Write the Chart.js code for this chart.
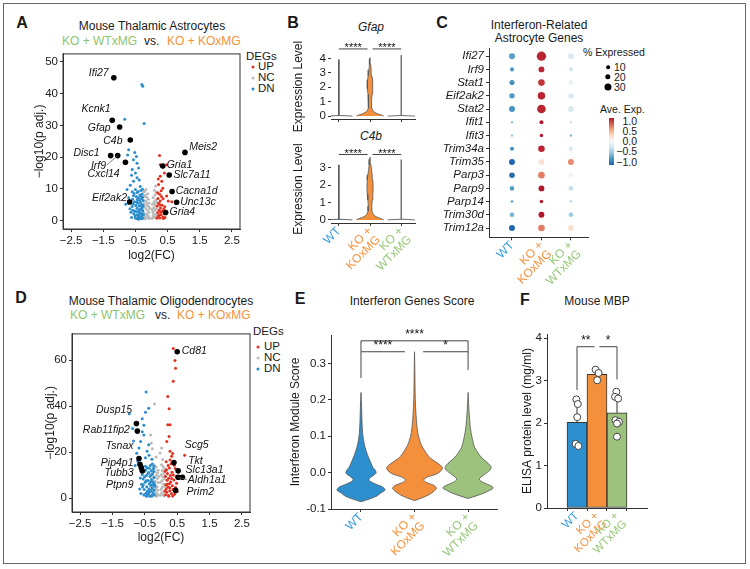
<!DOCTYPE html>
<html><head><meta charset="utf-8">
<script src="https://cdn.jsdelivr.net/npm/chart.js@4.4.1/dist/chart.umd.min.js"></script>
<style>
html,body{margin:0;padding:0;background:#fff;}
body{width:750px;height:569px;position:relative;overflow:hidden;font-family:'Liberation Sans',Arial,Helvetica,sans-serif;color:#1a1a1a;}
#frame{position:absolute;left:3px;top:3px;width:743px;height:561px;border:1.5px solid #666;box-sizing:border-box;}
canvas{position:absolute;}
.t{position:absolute;white-space:nowrap;line-height:1;}
.c{transform:translate(-50%,-50%);}
.l{transform:translateY(-50%);}
.L{font-weight:bold;font-size:16px;}
.dot{position:absolute;border-radius:50%;transform:translate(-50%,-50%);}
</style></head>
<body>
<div id="frame"></div>

<!-- panel letters and titles -->
<div class="t c L" style="left:22px;top:23px">A</div>
<div class="t c L" style="left:293px;top:23px">B</div>
<div class="t c L" style="left:442px;top:23px">C</div>
<div class="t c L" style="left:21px;top:298px">D</div>
<div class="t c L" style="left:300px;top:299px">E</div>
<div class="t c L" style="left:525px;top:300px">F</div>

<div class="t c" style="left:152px;top:26px;font-size:12px">Mouse Thalamic Astrocytes</div>
<div class="t l" style="left:62px;top:41px;font-size:12px;color:#8dc46f">KO + WTxMG</div>
<div class="t l" style="left:144px;top:41px;font-size:12px">vs.</div>
<div class="t l" style="left:167px;top:41px;font-size:12px;color:#f7923a">KO + KOxMG</div>

<div class="t c" style="left:161px;top:301px;font-size:12px">Mouse Thalamic Oligodendrocytes</div>
<div class="t l" style="left:70px;top:315px;font-size:12px;color:#8dc46f">KO + WTxMG</div>
<div class="t l" style="left:155px;top:315px;font-size:12px">vs.</div>
<div class="t l" style="left:177px;top:315px;font-size:12px;color:#f7923a">KO + KOxMG</div>

<div class="t c" style="left:371px;top:27px;font-size:12px;font-style:italic">Gfap</div>
<div class="t c" style="left:371px;top:136px;font-size:12px;font-style:italic">C4b</div>

<div class="t c" style="left:539px;top:25px;font-size:12px">Interferon-Related</div>
<div class="t c" style="left:539px;top:38px;font-size:12px">Astrocyte Genes</div>

<div class="t c" style="left:412px;top:301px;font-size:12px">Interferon Genes Score</div>
<div class="t c" style="left:597px;top:301px;font-size:12px">Mouse MBP</div>

<!-- DEG legends -->
<div class="t l" style="left:246px;top:57px;font-size:11.5px">DEGs</div>
<div class="dot" style="left:253px;top:67px;width:3px;height:3px;background:#e4301f"></div>
<div class="t l" style="left:258px;top:67px;font-size:11.5px">UP</div>
<div class="dot" style="left:253px;top:78px;width:3px;height:3px;background:#bdbdbd"></div>
<div class="t l" style="left:258px;top:78px;font-size:11.5px">NC</div>
<div class="dot" style="left:253px;top:89px;width:3px;height:3px;background:#2a8dcc"></div>
<div class="t l" style="left:258px;top:89px;font-size:11.5px">DN</div>

<div class="t l" style="left:253px;top:332px;font-size:11.5px">DEGs</div>
<div class="dot" style="left:258px;top:347px;width:3px;height:3px;background:#e4301f"></div>
<div class="t l" style="left:264px;top:347px;font-size:11.5px">UP</div>
<div class="dot" style="left:258px;top:358px;width:3px;height:3px;background:#bdbdbd"></div>
<div class="t l" style="left:264px;top:358px;font-size:11.5px">NC</div>
<div class="dot" style="left:258px;top:369px;width:3px;height:3px;background:#2a8dcc"></div>
<div class="t l" style="left:264px;top:369px;font-size:11.5px">DN</div>

<!-- dot plot legend -->
<div class="t l" style="left:583px;top:52px;font-size:10.5px">% Expressed</div>
<div id="sizeLegend"></div>
<div class="t l" style="left:600px;top:109px;font-size:10.5px">Ave. Exp.</div>
<div id="cbar" style="position:absolute;left:609px;top:118px;width:5px;height:47px"></div>
<div id="cbarLabels"></div>

<canvas id="cA" width="213" height="218" style="left:32px;top:45px"></canvas>
<canvas id="cB1" width="129" height="106" style="left:291px;top:30px"></canvas>
<canvas id="cB2" width="129" height="135" style="left:291px;top:140px"></canvas>
<canvas id="cC" width="170" height="262" style="left:425px;top:40px"></canvas>
<canvas id="cD" width="212" height="220" style="left:43px;top:325px"></canvas>
<canvas id="cE" width="217" height="247" style="left:288px;top:318px"></canvas>
<canvas id="cF" width="135" height="247" style="left:520px;top:318px"></canvas>

<script>
// ===================== DATA =====================
const groups = ['WT', 'KO + KOxMG', 'KO + WTxMG'];
const groupTickLabels = [['WT'], ['KO +', 'KOxMG'], ['KO +', 'WTxMG']];
const groupPos = [1, 2, 3];

// Panel A / D volcano axes
const volcanoXTicks = [-2.5, -1.5, -0.5, 0.5, 1.5, 2.5];
const volcanoAYTicks = [0, 10, 20, 30, 40, 50];
const volcanoDYTicks = [0, 20, 40, 60];

// Panel A: astrocytes  [log2FC, -log10 padj]
const ncA = [[-0.06,0.7],[-0.09,1.3],[-0.12,0.9],[-0.15,1.8],[-0.19,1.1],[-0.22,2.3],[-0.08,2.6],[-0.25,1.6],[-0.11,3.2],[-0.17,3.7],[-0.27,2.9],[-0.05,3.9],[-0.21,4.4],[-0.13,4.9],[-0.24,5.3],[-0.07,5.6],[-0.18,6.1],[-0.1,6.8],[-0.26,6.6],[-0.15,7.4],[-0.2,8.0],[-0.12,8.5],[-0.23,9.1],[-0.17,9.8],[-0.14,2.1],[-0.2,0.6],[-0.09,4.5],[-0.28,4.1],[-0.16,5.5],[-0.24,7.6],[-0.22,9.3],
  [0.02,0.8],[0.05,1.5],[0.09,1.0],[0.13,2.0],[0.04,2.8],[0.1,3.3],[0.15,1.2],[0.07,4.1],[0.12,4.8],[0.03,5.2],[0.16,3.8],[0.08,6.0],[0.14,6.6],[0.05,7.3],[0.11,8.1],[0.15,9.0],[0.09,9.6],[0.13,10.9],[0.06,2.3],[0.1,5.6],[0.02,3.6],[0.16,5.8]];
const dnA = [[-0.27,0.8],[-0.31,1.2],[-0.35,0.9],[-0.29,1.9],[-0.38,1.5],[-0.42,1.1],[-0.33,2.4],[-0.46,0.7],[-0.27,3.1],[-0.4,2.7],[-0.51,1.6],[-0.36,3.5],[-0.3,4.2],[-0.45,3.9],[-0.55,2.2],[-0.28,5.0],[-0.39,4.6],[-0.49,4.8],[-0.58,3.3],[-0.34,5.7],[-0.43,5.5],[-0.26,6.3],[-0.53,6.0],[-0.31,6.9],[-0.4,7.2],[-0.6,4.5],[-0.47,7.6],[-0.36,8.1],[-0.29,8.4],[-0.56,7.9],[-0.44,8.9],[-0.33,9.5],[-0.5,9.8],[-0.62,1.0],[-0.48,2.9],[-0.32,0.6],[-0.41,0.5],[-0.37,6.4],[-0.52,3.1],[-0.25,2.0],[-0.59,6.8],[-0.28,7.4],[-0.45,1.9],[-0.35,4.8],[-0.57,5.3],[-0.64,2.7],[-0.3,3.6],[-0.42,9.2],[-0.38,1.9],[-0.46,5.9],[-0.26,4.6],[-0.54,8.6],[-0.67,3.8],[-0.33,7.8],[-0.5,0.9],[-0.7,6.4],[-0.39,3.2],[-0.6,9.1],[-0.28,9.9],[-0.44,6.7],
  [-0.3,42.9],[-0.27,42.3],[-0.83,31.9],[-0.23,30.6],[-0.71,22.3],[-0.74,20.7],[-0.56,19.2],[-0.45,18.1],[-0.4,16.6],[-0.6,16.1],[-0.5,15.0],[-0.45,13.5],[-0.56,12.4],[-0.76,9.8],[-0.71,7.2],[-0.66,11.2],[-0.38,12.8],[-0.52,21.5],[-0.47,20.2],[-0.62,14.3],[-0.35,10.8],[-0.8,5.2]];
const upA = [[0.17,0.8],[0.21,1.4],[0.26,0.9],[0.3,1.9],[0.19,2.6],[0.35,1.2],[0.24,3.3],[0.4,2.2],[0.28,4.0],[0.18,4.6],[0.33,4.9],[0.22,5.5],[0.38,3.6],[0.27,6.2],[0.2,7.0],[0.31,7.6],[0.25,8.3],[0.36,6.9],[0.42,1.0],[0.29,2.7],[0.23,1.8],[0.34,3.0],[0.19,8.8],[0.3,9.4],[0.41,4.4],[0.26,5.0],[0.37,0.7],[0.44,3.1],
  [0.25,20.5],[0.27,17.6],[0.47,17.6],[0.4,15.0],[0.27,14.0],[0.32,12.4],[0.22,11.4],[0.52,6.2],[0.63,6.0],[0.47,7.8],[0.35,10.2],[0.21,13.1]];
const genesA = [['Ifi27',-1.17,45.0],['Kcnk1',-1.22,31.6],['Gfap',-0.99,29.5],['C4b',-0.66,25.4],['Disc1',-1.27,20.5],['Irf9',-1.05,20.5],['Cxcl14',-0.81,18.4],['Eif2ak2',-0.68,5.9],['Meis2',1.04,21.5],['Gria1',0.35,17.2],['Slc7a11',0.55,14.4],['Cacna1d',0.64,9.2],['Unc13c',0.78,5.8],['Gria4',0.44,2.6]];
// where each gene name is written (data coordinates, text alignment, leader line)
const spotsA = [[-1.33,46.6,'right',0],[-1.27,35.2,'right',0],[-1.27,29.2,'right',0],[-0.9,25.2,'right',0],[-1.61,21.2,'right',0],[-1.41,17.3,'right',1],[-0.99,14.7,'right',0],[-0.76,7.0,'right',0],[1.17,23.2,'left',0],[0.47,17.4,'left',0],[0.68,14.5,'left',0],[0.75,9.3,'left',0],[0.89,5.8,'left',0],[0.56,2.6,'left',0]];

// Panel D: oligodendrocytes
const ncD = [[-0.09,1.4],[-0.13,2.2],[-0.18,1.1],[-0.23,2.8],[-0.1,3.5],[-0.28,1.9],[-0.16,4.2],[-0.31,3.6],[-0.12,5.1],[-0.21,5.5],[-0.26,6.4],[-0.08,6.8],[-0.17,7.3],[-0.3,8.0],[-0.11,8.6],[-0.23,9.2],[-0.14,10.0],[-0.28,10.8],[-0.19,11.5],[-0.09,12.2],[-0.25,12.9],[-0.15,13.6],[-0.21,14.4],[-0.32,5.1],[-0.14,0.9],[-0.27,14.9],[-0.06,9.5],[-0.19,3.2],[-0.24,7.7],[-0.11,11.0],
  [-0.02,1.3],[0.02,2.4],[0.06,1.6],[0.1,3.0],[0.0,3.9],[0.04,4.8],[0.12,5.2],[0.08,6.1],[-0.01,6.9],[0.03,7.7],[0.11,8.4],[0.06,9.3],[0.01,10.2],[0.09,11.0],[0.04,12.1],[0.12,12.8],[0.07,13.7],[0.02,14.6],[0.1,1.0],[0.13,9.8],
  [-0.2,41.0],[-0.32,27.5],[-0.3,24.0],[-0.27,21.5],[0.02,21.8],[-0.03,19.7],[-0.15,17.9],[0.05,16.8]];
const dnD = [[-0.2,1.5],[-0.24,2.3],[-0.28,1.2],[-0.33,2.9],[-0.22,3.6],[-0.38,1.8],[-0.27,4.4],[-0.42,3.1],[-0.19,5.2],[-0.31,5.6],[-0.47,2.2],[-0.36,6.3],[-0.24,7.0],[-0.44,5.0],[-0.52,3.8],[-0.29,8.1],[-0.4,7.7],[-0.21,9.0],[-0.34,9.4],[-0.49,6.9],[-0.57,4.9],[-0.26,10.5],[-0.45,9.9],[-0.38,11.2],[-0.3,12.0],[-0.55,8.4],[-0.23,12.8],[-0.42,13.3],[-0.33,14.2],[-0.5,11.7],[-0.6,6.1],[-0.27,14.9],[-0.62,2.0],[-0.35,0.9],[-0.45,0.8],[-0.2,6.1],[-0.58,10.3],[-0.48,13.9],[-0.37,4.0],[-0.3,3.4],[-0.53,1.4],[-0.4,10.8],[-0.23,11.6],[-0.46,7.6],[-0.64,8.8],[-0.32,7.2],[-0.25,5.7],[-0.43,1.5],[-0.55,5.9],[-0.36,13.0],[-0.29,0.9],[-0.51,9.3],[-0.39,2.6],[-0.22,13.9],[-0.66,4.0],[-0.47,12.4],[-0.31,10.0],[-0.6,12.1],
  [-0.46,46.2],[-0.38,39.1],[-0.48,37.4],[-0.98,36.7],[-0.58,34.6],[-0.53,31.8],[-0.88,30.3],[-0.58,28.9],[-0.53,27.5],[-0.63,24.7],[-0.38,23.3],[-0.43,20.4],[-0.48,17.6],[-0.28,16.9],[-0.68,21.8],[-0.85,24.9],[-0.75,19.6],[-0.8,14.2],[-0.72,16.1],[-0.37,18.7]];
const upD = [[0.14,1.5],[0.18,2.6],[0.23,1.2],[0.27,3.3],[0.16,4.0],[0.32,2.0],[0.21,4.9],[0.37,3.8],[0.15,5.9],[0.26,6.3],[0.42,1.7],[0.3,7.1],[0.19,7.8],[0.35,5.4],[0.45,4.7],[0.24,8.7],[0.4,7.9],[0.14,9.5],[0.29,9.9],[0.48,6.5],[0.2,10.8],[0.34,11.3],[0.17,12.4],[0.26,13.1],[0.38,10.1],[0.22,14.2],[0.31,15.0],[0.16,15.9],[0.44,12.9],[0.28,16.6],[0.5,2.9],[0.36,1.0],[0.12,3.1],[0.24,0.9],[0.41,14.3],[0.19,6.1],[0.33,8.6],[0.47,9.4],[0.13,11.7],[0.27,4.6],
  [0.38,65.1],[0.43,59.9],[0.45,56.6],[0.38,50.9],[0.21,44.3],[0.25,38.9],[0.21,32.0],[0.28,32.0],[0.25,26.8],[0.18,24.7],[0.28,20.4],[0.33,18.3],[0.73,18.7],[0.36,19.5]];
const genesD = [['Cd81',0.5,63.7],['Dusp15',-0.76,32.5],['Rab11fip2',-0.73,29.2],['Tsnax',-0.65,14.8],['Pip4p1',-0.68,17.3],['Tubb3',-0.61,13.3],['Ptpn9',-0.58,11.9],['Scg5',0.4,15.5],['Tkt',0.53,11.9],['Slc13a1',0.66,9.1],['Aldh1a1',0.53,9.1],['Prim2',0.45,3.4]];
const spotsD = [[0.64,64,'left',0],[-0.89,38.2,'right',0],[-0.96,29.8,'right',0],[-0.85,22.8,'right',0],[-0.85,15.5,'right',0],[-0.85,10.8,'right',0],[-0.85,5.8,'right',0],[0.73,23,'left',0],[0.84,16.2,'left',0],[0.76,12.2,'left',0],[0.83,7.7,'left',1],[0.79,2.7,'left',0]];

// Panel B: violin outlines [expression level, half width as fraction of group spacing]
const gfapYTicks = [0, 1, 2, 3, 4];
const c4bYTicks = [0, 1, 2, 3];
const gfapWT  = [[0,0.44],[0.04,0.01],[3.9,0.005],[3.92,0]];
const gfapKO  = [[0,0.44],[0.08,0.36],[0.16,0.24],[0.26,0.15],[0.38,0.09],[0.55,0.06],[0.8,0.045],[1.1,0.05],[1.5,0.065],[1.9,0.085],[2.2,0.09],[2.5,0.08],[2.8,0.06],[3.2,0.035],[3.6,0.02],[3.95,0.008],[4.05,0]];
const gfapWTx = [[0,0.44],[0.04,0.008],[4.2,0.004],[4.22,0]];
const c4bWT   = [[0,0.44],[0.04,0.008],[3.17,0.004],[3.19,0]];
const c4bKO   = [[0,0.44],[0.07,0.36],[0.14,0.25],[0.22,0.16],[0.33,0.1],[0.5,0.065],[0.8,0.055],[1.15,0.07],[1.5,0.09],[1.9,0.1],[2.3,0.09],[2.6,0.07],[2.9,0.045],[3.2,0.03],[3.5,0.012],[3.62,0]];
const c4bWTx  = [[0,0.44],[0.04,0.008],[3.46,0.004],[3.48,0]];
const sigB1 = [[1,1.92,4.65,4.65,4.65,'****'],[2.08,3,4.65,4.65,4.65,'****']];
const sigB2 = [[1,1.92,3.78,3.78,3.78,'****'],[2.08,3,3.78,3.78,3.78,'****']];

// Panel C: dot plot
const genesC = ['Ifi27','Irf9','Stat1','Eif2ak2','Stat2','Ifit1','Ifit3','Trim34a','Trim35','Parp3','Parp9','Parp14','Trim30d','Trim12a'];
const pctWT  = [23,12,18,20,23,1,3,12,23,21,15,3,15,23];
const pctKO  = [43,23,27,32,39,12,9,27,23,27,23,9,23,27];
const pctWTx = [23,12,15,20,23,1,3,15,23,15,15,3,15,23];
const expWT  = [-0.7,-0.72,-0.75,-0.72,-0.75,-0.6,-0.45,-0.75,-1.0,-0.95,-0.7,-0.7,-0.6,-1.0];
const expKO  = [0.95,0.95,0.9,0.95,0.95,1.0,1.0,0.95,0.2,0.65,1.0,1.0,1.0,0.65];
const expWTx = [-0.2,-0.25,-0.1,-0.2,-0.2,-0.35,-0.55,-0.2,0.6,0.05,-0.3,-0.35,-0.45,0.2];
const sizeLegendPct = [10, 20, 30];
const colorbarTicks = [1.0, 0.5, 0.0, -0.5, -1.0];

// Panel E: violin outlines [module score, half width as fraction of group spacing]
const eYTicks = [-0.1, 0, 0.1, 0.2, 0.3];
const scoreWT  = [[-0.080,0],[-0.072,0.17],[-0.064,0.30],[-0.056,0.37],[-0.048,0.45],[-0.040,0.41],[-0.032,0.28],[-0.024,0.17],[-0.018,0.15],[-0.010,0.21],[-0.002,0.28],[0.006,0.27],[0.015,0.22],[0.025,0.19],[0.035,0.16],[0.05,0.12],[0.07,0.075],[0.09,0.047],[0.11,0.03],[0.14,0.019],[0.18,0.011],[0.22,0]];
const scoreKO  = [[-0.077,0],[-0.07,0.13],[-0.06,0.28],[-0.05,0.37],[-0.043,0.41],[-0.035,0.36],[-0.027,0.22],[-0.02,0.17],[-0.012,0.24],[-0.004,0.41],[0.006,0.50],[0.014,0.52],[0.024,0.45],[0.035,0.34],[0.045,0.26],[0.06,0.19],[0.075,0.13],[0.09,0.093],[0.11,0.06],[0.14,0.037],[0.18,0.02],[0.22,0.011],[0.28,0.006],[0.332,0]];
const scoreWTx = [[-0.071,0],[-0.064,0.15],[-0.056,0.30],[-0.048,0.41],[-0.042,0.47],[-0.035,0.41],[-0.027,0.28],[-0.018,0.21],[-0.008,0.28],[0.002,0.37],[0.012,0.43],[0.02,0.41],[0.03,0.34],[0.04,0.26],[0.053,0.19],[0.07,0.12],[0.09,0.084],[0.11,0.056],[0.13,0.037],[0.16,0.022],[0.19,0.009],[0.22,0]];
const sigE = [[1,3,0.362,0.332,0.332,'****'],[1,1.82,0.332,0.26,0.332,'****'],[2.16,3,0.332,0.332,0.282,'*']];

// Panel F: ELISA MBP
const fYTicks = [0, 1, 2, 3, 4];
const meanF = [2.02, 3.15, 2.24];
const sdF = [0.51, 0.13, 0.38];
const valsWT  = [2.56, 2.45, 2.14, 1.51, 1.46];
const xWT     = [0.97, 1.04, 1.01, 0.93, 1.07];
const valsKO  = [3.26, 3.18, 3.01];
const xKO     = [1.93, 2.08, 2.01];
const valsWTx = [2.74, 2.62, 2.58, 2.07, 2.03, 1.99, 1.68];
const xWTx    = [2.97, 2.9, 3.06, 2.92, 3.1, 3.0, 3.0];
const sigF = [[1,1.88,3.8,2.78,3.8,'**'],[2.12,3,3.8,3.8,3.03,'*']];

// ===================== STYLE / HELPERS =====================
const FONT = "'Liberation Sans', Arial, Helvetica, sans-serif";
const labelColors = ['#3a9de0', '#f7923a', '#97c879'];
const fillColors = ['#2e8fcf', '#f4903c', '#9cc27d'];
Chart.defaults.font.family = FONT;
Chart.defaults.font.size = 11.5;
Chart.defaults.color = '#1a1a1a';
Chart.defaults.animation = false;
Chart.defaults.events = [];
Chart.defaults.plugins.legend.display = false;
Chart.defaults.plugins.tooltip.enabled = false;

const minusFmt = v => (v < 0 ? '\u2212' : '') + Math.abs(v).toFixed(1);
function axis(o) {
  return {
    type: 'linear', min: o.min, max: o.max, reverse: !!o.reverse,
    afterFit: s => { if (o.w != null) s.width = o.w; if (o.h != null) s.height = o.h; },
    afterBuildTicks: s => { s.ticks = o.ticks.map(v => ({value: v})); },
    grid: {display: true, drawOnChartArea: false, drawTicks: true, tickLength: 3, color: '#333', lineWidth: 1},
    border: {display: o.border !== false, color: '#333', width: 1},
    ticks: {padding: o.pad != null ? o.pad : 2, autoSkip: false, font: o.font || {size: 11.5}, color: o.color || '#1a1a1a',
            callback: o.fmt || (v => String(v)), maxRotation: o.rot || 0, minRotation: o.rot || 0},
    title: o.title ? {display: true, text: o.title, font: {size: 12}, padding: {top: 0, bottom: 0}, color: '#1a1a1a'} : {display: false}
  };
}
function groupAxis(min, max, h, showLabels, fontSize) {
  return axis({min, max, h, ticks: groupPos, rot: 45, pad: -1,
    fmt: showLabels ? ((v, i) => groupTickLabels[i]) : (() => ''),
    color: c => labelColors[c.index], font: {size: fontSize || 12, lineHeight: 1.0}});
}
const boxPlugin = {id: 'box', afterDraw(c) {
  const a = c.chartArea, x = c.ctx; x.save(); x.strokeStyle = '#333'; x.lineWidth = 1;
  x.strokeRect(a.left, a.top, a.right - a.left, a.bottom - a.top); x.restore();
}};
function geneLabels(genes, spots) {
  return {id: 'genelabels', afterDatasetsDraw(c) {
    const xs = c.scales.x, ys = c.scales.y, ctx = c.ctx;
    ctx.save(); ctx.font = 'italic 10.5px ' + FONT; ctx.fillStyle = '#111'; ctx.textBaseline = 'middle';
    genes.forEach((g, i) => {
      const s = spots[i];
      const tx = xs.getPixelForValue(s[0]), ty = ys.getPixelForValue(s[1]);
      ctx.textAlign = s[2]; ctx.fillText(g[0], tx, ty);
      if (s[3]) {
        const px = xs.getPixelForValue(g[1]), py = ys.getPixelForValue(g[2]);
        ctx.strokeStyle = '#555'; ctx.lineWidth = 0.8; ctx.beginPath();
        ctx.moveTo(tx + (s[2] === 'right' ? 1 : -1), ty - 1); ctx.lineTo(px, py); ctx.stroke();
      }
    });
    ctx.restore();
  }};
}
function brackets(list, fontSize, off) {
  return {id: 'brackets', afterDatasetsDraw(c) {
    const xs = c.scales.x, ys = c.scales.y, ctx = c.ctx;
    ctx.save(); ctx.strokeStyle = '#444'; ctx.lineWidth = 1; ctx.fillStyle = '#111';
    ctx.font = fontSize + 'px ' + FONT; ctx.textAlign = 'center'; ctx.textBaseline = 'alphabetic';
    list.forEach(b => {
      const x1 = xs.getPixelForValue(b[0]), x2 = xs.getPixelForValue(b[1]);
      const y = ys.getPixelForValue(b[2]), l1 = ys.getPixelForValue(b[3]), l2 = ys.getPixelForValue(b[4]);
      ctx.beginPath(); ctx.moveTo(x1, l1); ctx.lineTo(x1, y); ctx.lineTo(x2, y); ctx.lineTo(x2, l2); ctx.stroke();
      ctx.fillText(b[5], (x1 + x2) / 2, y + off);
    });
    ctx.restore();
  }};
}
function outline(center, knots) {
  const right = knots.map(k => ({x: center + k[1], y: k[0]}));
  const left = knots.slice().reverse().map(k => ({x: center - k[1], y: k[0]}));
  return right.concat(left);
}
function violinSet(center, knots, color, tension) {
  return {type: 'scatter', showLine: true, fill: 'shape', data: outline(center, knots),
    backgroundColor: color, borderColor: '#555', borderWidth: 0.8, pointRadius: 0, tension: tension || 0};
}
const pts = a => a.map(p => ({x: p[0], y: p[1]}));

// ===================== A & D: volcano plots =====================
function volcano(id, nc, dn, up, genes, spots, yTicks, ymin, ymax, d) {
  new Chart(document.getElementById(id), {
    type: 'scatter',
    data: {datasets: [
      {data: genes.map(g => ({x: g[1], y: g[2]})), backgroundColor: '#000', pointRadius: 2.8, borderWidth: 0, order: 0},
      {data: pts(up), backgroundColor: '#e4301f', pointRadius: 1.5, borderWidth: 0, order: 1},
      {data: pts(dn), backgroundColor: '#2a8dcc', pointRadius: 1.5, borderWidth: 0, order: 2},
      {data: pts(nc), backgroundColor: '#bababa', pointRadius: 1.5, borderWidth: 0, order: 3}
    ]},
    options: {responsive: false, devicePixelRatio: 1,
      layout: {padding: {top: d.pt, right: d.pr, left: 0, bottom: 0}},
      scales: {
        x: axis({min: -2.75, max: 2.75, ticks: volcanoXTicks, fmt: minusFmt, h: d.h, title: 'log2(FC)'}),
        y: axis({min: ymin, max: ymax, ticks: yTicks, w: d.w, title: '\u2212log10(p adj.)'})
      }},
    plugins: [boxPlugin, geneLabels(genes, spots)]
  });
}
volcano('cA', ncA, dnA, upA, genesA, spotsA, volcanoAYTicks, -2.6, 52.5, {pt: 6, pr: 5, h: 34, w: 31});
volcano('cD', ncD, dnD, upD, genesD, spotsD, volcanoDYTicks, -6.0, 71.5, {pt: 5, pr: 5, h: 33, w: 29});

// ===================== B: violin plots =====================
function violinB(id, sets, yTicks, ymin, ymax, d, showLabels, sig, sigOff) {
  new Chart(document.getElementById(id), {
    type: 'scatter',
    data: {datasets: sets.map((k, i) => violinSet(groupPos[i], k, fillColors[i], 0))},
    options: {responsive: false, devicePixelRatio: 1,
      layout: {padding: {top: d.pt, right: 5, left: 0, bottom: 0}},
      scales: {
        x: groupAxis(0.75, 3.44, d.h, showLabels, 12),
        y: axis({min: ymin, max: ymax, ticks: yTicks, w: 40, border: false, title: 'Expression Level'})
      }},
    plugins: [brackets(sig, 11, sigOff)]
  });
}
violinB('cB1', [gfapWT, gfapKO, gfapWTx], gfapYTicks, -0.2, 4.3, {pt: 24, h: 17}, false, sigB1, 2);
violinB('cB2', [c4bWT, c4bKO, c4bWTx], c4bYTicks, -0.18, 3.75, {pt: 15, h: 52}, true, sigB2, 3);

// ===================== C: dot plot =====================
const rdbu = [[-1,[33,102,172]],[-0.75,[67,147,195]],[-0.5,[146,197,222]],[-0.25,[209,229,240]],[0,[247,247,247]],[0.25,[253,219,199]],[0.5,[244,165,130]],[0.75,[214,96,77]],[1,[178,24,43]]];
function colorOf(v) {
  v = Math.max(-1, Math.min(1, v));
  for (let i = 0; i < rdbu.length - 1; i++) {
    const [a, ca] = rdbu[i], [b, cb] = rdbu[i + 1];
    if (v <= b) { const t = (v - a) / (b - a); return 'rgb(' + ca.map((c, j) => Math.round(c + (cb[j] - c) * t)).join(',') + ')'; }
  }
  return 'rgb(178,24,43)';
}
const sizeOf = pct => 1.0 + 0.085 * pct;
const pctAll = [pctWT, pctKO, pctWTx], expAll = [expWT, expKO, expWTx];
const bubbles = [];
genesC.forEach((g, r) => groupPos.forEach((x, gi) => bubbles.push({x, y: r + 1, r: sizeOf(pctAll[gi][r]), v: expAll[gi][r]})));
new Chart(document.getElementById('cC'), {
  type: 'bubble',
  data: {datasets: [{data: bubbles, backgroundColor: c => colorOf(c.raw ? c.raw.v : 0), borderWidth: 0}]},
  options: {responsive: false, devicePixelRatio: 1,
    layout: {padding: {top: 5.5, right: 7, left: 0, bottom: 0}},
    scales: {
      x: groupAxis(0.22, 3.58, 64.7, true, 12),
      y: axis({min: 0.45, max: 14.7, reverse: true, ticks: genesC.map((g, i) => i + 1), w: 64,
               fmt: (v, i) => genesC[i], font: {size: 11.5, style: 'italic'}})
    }}
});
// legend for C
(function () {
  const sl = document.getElementById('sizeLegend');
  sizeLegendPct.forEach((p, i) => {
    const y = 67 + i * 10, r = sizeOf(p);
    sl.insertAdjacentHTML('beforeend',
      '<div class="dot" style="left:608px;top:' + y + 'px;width:' + (2 * r) + 'px;height:' + (2 * r) + 'px;background:#000"></div>' +
      '<div class="t l" style="left:614px;top:' + y + 'px;font-size:10.5px">' + p + '</div>');
  });
  const stops = rdbu.slice().reverse().map((s, i) => 'rgb(' + s[1].join(',') + ') ' + (i * 100 / (rdbu.length - 1)) + '%').join(',');
  document.getElementById('cbar').style.background = 'linear-gradient(to bottom,' + stops + ')';
  const cl = document.getElementById('cbarLabels');
  colorbarTicks.forEach(v => {
    const y = 120.7 + (1 - v) / 2 * 41;
    cl.insertAdjacentHTML('beforeend', '<div class="t" style="left:637px;top:' + y + 'px;font-size:10.5px;transform:translate(-100%,-50%)">' + minusFmt(v) + '</div>');
  });
})();

// ===================== E: interferon score violins =====================
new Chart(document.getElementById('cE'), {
  type: 'scatter',
  data: {datasets: [scoreWT, scoreKO, scoreWTx].map((k, i) => violinSet(groupPos[i], k, fillColors[i], 0.3))},
  options: {responsive: false, devicePixelRatio: 1,
    layout: {padding: {top: 17, right: 8, left: 0, bottom: 0}},
    scales: {
      x: groupAxis(0.44, 3.54, 56, true, 12),
      y: axis({min: -0.1, max: 0.378, ticks: eYTicks, w: 43, fmt: v => v.toFixed(1), title: 'Interferon Module Score'})
    }},
  plugins: [brackets(sigE, 12, -2.4)]
});

// ===================== F: ELISA bars =====================
const errPlugin = {id: 'err', afterDatasetDraw(c, args) {
  if (args.index !== 1) return;
  const xs = c.scales.x, ys = c.scales.y, ctx = c.ctx;
  ctx.save(); ctx.strokeStyle = '#333'; ctx.lineWidth = 1;
  meanF.forEach((m, i) => {
    const x = xs.getPixelForValue(groupPos[i]);
    ctx.beginPath(); ctx.moveTo(x, ys.getPixelForValue(m)); ctx.lineTo(x, ys.getPixelForValue(m + sdF[i])); ctx.stroke();
  });
  ctx.restore();
}};
const dotsF = [];
[[xWT, valsWT], [xKO, valsKO], [xWTx, valsWTx]].forEach(([xs, vs]) => vs.forEach((v, i) => dotsF.push({x: xs[i], y: v})));
new Chart(document.getElementById('cF'), {
  data: {datasets: [
    {type: 'scatter', data: dotsF, pointRadius: 3.5, backgroundColor: '#fff', borderColor: '#444', borderWidth: 1, order: 0},
    {type: 'bar', data: groupPos.map((x, i) => ({x, y: meanF[i]})), backgroundColor: fillColors, borderColor: '#333', borderWidth: 1, borderSkipped: false, barThickness: 20, order: 1}
  ]},
  options: {responsive: false, devicePixelRatio: 1,
    layout: {padding: {top: 16, right: 8, left: 0, bottom: 0}},
    scales: {
      x: groupAxis(0.333, 3.667, 57, true, 11.5),
      y: axis({min: 0, max: 4.1, ticks: fYTicks, w: 27, title: 'ELISA protein level (mg/ml)'})
    }},
  plugins: [errPlugin, brackets(sigF, 12, -3)]
});
</script>
</body></html>
